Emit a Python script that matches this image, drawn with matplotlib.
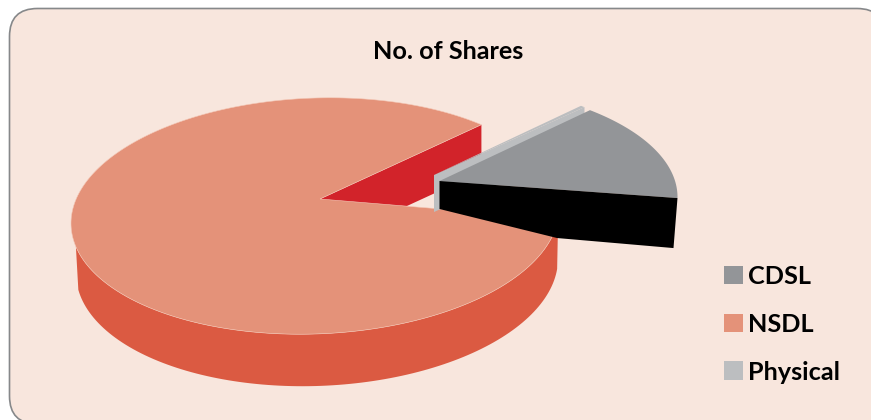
import numpy as np
import matplotlib
matplotlib.use("Agg")
import matplotlib.pyplot as plt
from matplotlib.patches import FancyBboxPatch, Patch, Polygon

# share of holdings, percent
labels = ["CDSL", "NSDL", "Physical"]
shares = [14.1, 85.6, 0.3]
title = "No. of Shares"

BG = "#F8E6DD"
COL_CDSL = "#939598"
COL_NSDL = "#E49279"
COL_PHYS = "#BCBEC0"
COL_NSDL_SIDE = "#DB5A42"
COL_CUT = "#D2232A"

plt.rcParams["font.family"] = ["Lato", "DejaVu Sans"]

fig = plt.figure(figsize=(8.71, 4.2), dpi=100)
ax = fig.add_axes([0, 0, 1, 1])
ax.set_xlim(0, 871)
ax.set_ylim(420, 0)
ax.axis("off")

# panel runs off the right and bottom of the page
panel = FancyBboxPatch((9.5, 8.5), 875.5, 415.5, boxstyle="round,pad=0,rounding_size=28",
                       facecolor=BG, edgecolor="#86888A", linewidth=1.2, zorder=0)
ax.add_patch(panel)


def rim(cx, cy, rx, ry, deg, lean=0.0):
    t = np.radians(deg)
    x = cx + rx * np.cos(t)
    return np.column_stack([x, cy - ry * np.sin(t) - lean * (x - cx)])


def sweep(a, b, n=120):
    return np.linspace(a, b, n)


# angles in the tilted pie, from the values
start = 47.0
deg = [s * 3.6 for s in shares]
nsdl_end = start + deg[1]
cdsl_end = nsdl_end - 360 + 4.3
cdsl_start = cdsl_end + deg[0]

# NSDL, the big slice
apex = np.array([320.0, 199.0])
cx, cy, rx, ry, lean = 315, 216, 244, 118, 0.03
arc = rim(cx, cy, rx, ry, sweep(start, nsdl_end, 300), lean)

back_pt = arc[0]
cut = np.array([apex, back_pt, back_pt + [0, 47], apex + [0, 47]])
ax.add_patch(Polygon(cut, facecolor=COL_CUT, edgecolor="none", zorder=1))

side_top = rim(cx, cy, rx, ry, sweep(nsdl_end - 360, -168.5), lean)
side_bot = rim(317, 266, 241, 120, sweep(-172, nsdl_end - 360), lean)
ax.add_patch(Polygon(np.vstack([side_top, side_bot]), facecolor=COL_NSDL_SIDE,
                     edgecolor="none", zorder=2))

ax.add_patch(Polygon(np.vstack([apex, arc]), facecolor=COL_NSDL, edgecolor="#F4C9B8",
                     linewidth=0.4, zorder=3))

# Physical, pulled out, mostly its wall shows
phys_apex = np.array([434.0, 175.0])
phys_arc = rim(429, 194, 243, 113, sweep(cdsl_start, cdsl_start + deg[2], 6))
wall = np.array([phys_apex, phys_arc[0], phys_arc[0] + [0, 37], phys_apex + [0, 37]])
ax.add_patch(Polygon(wall, facecolor=COL_PHYS, edgecolor="none", zorder=4))
ax.add_patch(Polygon(np.vstack([phys_apex, phys_arc]), facecolor=COL_PHYS,
                     edgecolor="none", zorder=4))

# CDSL, pulled out
cdsl_apex = np.array([439.5, 181.0])
cdsl_arc = rim(434.5, 197, 243, 113, sweep(cdsl_start, cdsl_end, 60))
ax.add_patch(Polygon(np.vstack([cdsl_apex, cdsl_arc]), facecolor=COL_CDSL,
                     edgecolor="none", zorder=5))
tip = cdsl_arc[-1]
knee = cdsl_apex + 0.494 * (tip - cdsl_apex) + [0, 48.6]
front = np.array([cdsl_apex, tip, tip + [-4, 50], knee, cdsl_apex + [0, 28]])
ax.add_patch(Polygon(front, facecolor="black", edgecolor="none", zorder=6))

ax.text(448, 59, title, ha="center", va="baseline", fontsize=18.2, fontweight="bold", color="black")

colors = [COL_CDSL, COL_NSDL, COL_PHYS]
handles = [Patch(facecolor=c, edgecolor="none", label=l) for c, l in zip(colors, labels)]
fs = 18.2
fs_px = fs * 100 / 72
ax.legend(handles=handles, loc="upper left", bbox_to_anchor=(724 / 871, 1 - 265 / 420),
          frameon=False, prop={"weight": "bold", "size": fs},
          handlelength=19 / fs_px, handleheight=19 / fs_px, handletextpad=5 / fs_px,
          labelspacing=0.98, borderpad=0, borderaxespad=0)

fig.savefig("out.png", dpi=100)
plt.close(fig)
